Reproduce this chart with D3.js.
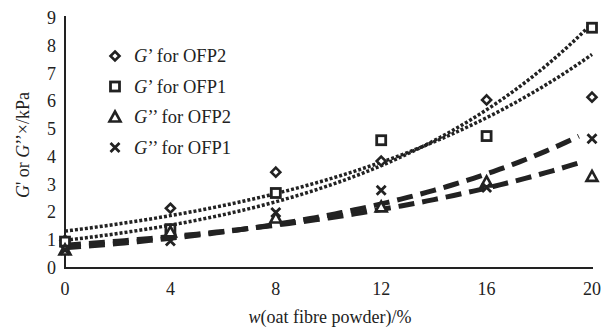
<!DOCTYPE html>
<html>
<head>
<meta charset="utf-8">
<script src="https://cdn.jsdelivr.net/npm/d3@7"></script>
<style>
body { margin: 0; background: #fff; }
</style>
</head>
<body>
<svg id="chart" width="614" height="330" font-family="'Liberation Serif', 'DejaVu Serif', 'Times New Roman', serif"></svg>
<script>
// data
const wPct = [0, 4, 8, 12, 16, 20]
const gPrimeOFP2 = [1.0, 2.15, 3.45, 3.85, 6.05, 6.15]
const gPrimeOFP1 = [0.95, 1.4, 2.7, 4.6, 4.75, 8.65]
const gDoubleOFP2 = [0.65, 1.3, 1.8, 2.2, 3.1, 3.3]
const gDoubleOFP1 = [0.65, 0.97, 2.0, 2.8, 2.9, 4.65]
const xTicks = [0, 4, 8, 12, 16, 20]
const yTicks = [0, 1, 2, 3, 4, 5, 6, 7, 8, 9]

var series = [
	{name: "OFP2", mod: "G’", sym: "diamond", vals: gPrimeOFP2, line: "dot"},
	{name: "OFP1", mod: "G’", sym: "square", vals: gPrimeOFP1, line: "dot"},
	{name: "OFP2", mod: "G’’", sym: "triangle", vals: gDoubleOFP2, line: "dash"},
	{name: "OFP1", mod: "G’’", sym: "cross", vals: gDoubleOFP1, line: "dash"}
];

var svg = d3.select("#chart");
var ink = "#222";

var x = d3.scaleLinear().domain([0, 20]).range([65, 592]);
var y = d3.scaleLinear().domain([0, 9]).range([268, 18]);

// exponential trend, least squares on ln(y)
function expFit(xs, ys){
	var ly = ys.map(Math.log);
	var mx = d3.mean(xs), my = d3.mean(ly);
	var sxy = 0, sxx = 0;
	xs.forEach(function(v, i){ sxy += (v - mx) * (ly[i] - my); sxx += (v - mx) * (v - mx); });
	var b = sxy / sxx;
	var a = Math.exp(my - b * mx);
	return function(t){ return a * Math.exp(b * t); };
}

var line = d3.line().x(function(d){ return x(d[0]); }).y(function(d){ return y(d[1]); });

series.forEach(function(s){
	var f = expFit(wPct, s.vals);
	var end = s.line == "dot" ? 20 : 19.5;
	var pts = d3.range(0, end + 0.01, 0.25).map(function(t){ return [t, f(t)]; });
	svg.append("path")
		.attr("d", line(pts))
		.attr("fill", "none")
		.attr("stroke", ink)
		.attr("stroke-width", s.line == "dot" ? 3.5 : 5)
		.attr("stroke-dasharray", s.line == "dot" ? "3,2" : "16,8");
});

// axes lines (no tick marks)
svg.append("line").attr("x1", 65).attr("x2", 65).attr("y1", 16).attr("y2", 269)
	.attr("stroke", ink).attr("stroke-width", 2);
svg.append("line").attr("x1", 64).attr("x2", 593).attr("y1", 268).attr("y2", 268)
	.attr("stroke", ink).attr("stroke-width", 2);

svg.append("g").selectAll("text").data(yTicks).join("text")
	.attr("x", 56).attr("y", function(d){ return y(d) + 6; })
	.attr("text-anchor", "end").attr("fill", ink).style("font-size", "18px")
	.text(function(d){ return d; });

svg.append("g").selectAll("text").data(xTicks).join("text")
	.attr("x", function(d){ return x(d); }).attr("y", 295)
	.attr("text-anchor", "middle").attr("fill", ink).style("font-size", "18px")
	.text(function(d){ return d; });

function marker(g, sym, cx, cy){
	if (sym == "diamond") {
		g.append("path").attr("d", "M" + cx + "," + (cy - 4.5) + "L" + (cx + 4.5) + "," + cy + "L" + cx + "," + (cy + 4.5) + "L" + (cx - 4.5) + "," + cy + "Z")
			.attr("fill", "#fff").attr("stroke", ink).attr("stroke-width", 2.6);
	} else if (sym == "square") {
		g.append("rect").attr("x", cx - 4.5).attr("y", cy - 4.5).attr("width", 9).attr("height", 9)
			.attr("fill", "#fff").attr("stroke", ink).attr("stroke-width", 2.8);
	} else if (sym == "triangle") {
		g.append("path").attr("d", "M" + cx + "," + (cy - 5.5) + "L" + (cx + 5.5) + "," + (cy + 4.5) + "L" + (cx - 5.5) + "," + (cy + 4.5) + "Z")
			.attr("fill", "#fff").attr("stroke", ink).attr("stroke-width", 2.6);
	} else {
		g.append("path").attr("d", "M" + (cx - 4.5) + "," + (cy - 4.5) + "L" + (cx + 4.5) + "," + (cy + 4.5) + "M" + (cx + 4.5) + "," + (cy - 4.5) + "L" + (cx - 4.5) + "," + (cy + 4.5))
			.attr("fill", "none").attr("stroke", ink).attr("stroke-width", 2.8);
	}
}

var pts = svg.append("g");
series.forEach(function(s){
	s.vals.forEach(function(v, i){ marker(pts, s.sym, x(wPct[i]), y(v)); });
});

// legend
var leg = svg.append("g");
series.forEach(function(s, i){
	var ly = 56 + i * 30.5;
	marker(leg, s.sym, 115, ly);
	var t = leg.append("text").attr("x", 134).attr("y", ly + 6).attr("fill", ink).style("font-size", "18.5px");
	t.append("tspan").style("font-style", "italic").text("G");
	t.append("tspan").text(s.mod.slice(1) + " for " + s.name);
});

// axis titles
var yl = svg.append("text")
	.attr("transform", "translate(29,145) rotate(-90)")
	.attr("text-anchor", "middle").attr("fill", ink).style("font-size", "18px");
yl.append("tspan").style("font-style", "italic").text("G");
yl.append("tspan").text("' or ");
yl.append("tspan").style("font-style", "italic").text("G");
yl.append("tspan").text("’’×/kPa");

var xl = svg.append("text").attr("x", 330).attr("y", 323)
	.attr("text-anchor", "middle").attr("fill", ink).style("font-size", "18px");
xl.append("tspan").style("font-style", "italic").text("w");
xl.append("tspan").text("(oat fibre powder)/%");
</script>
</body>
</html>
